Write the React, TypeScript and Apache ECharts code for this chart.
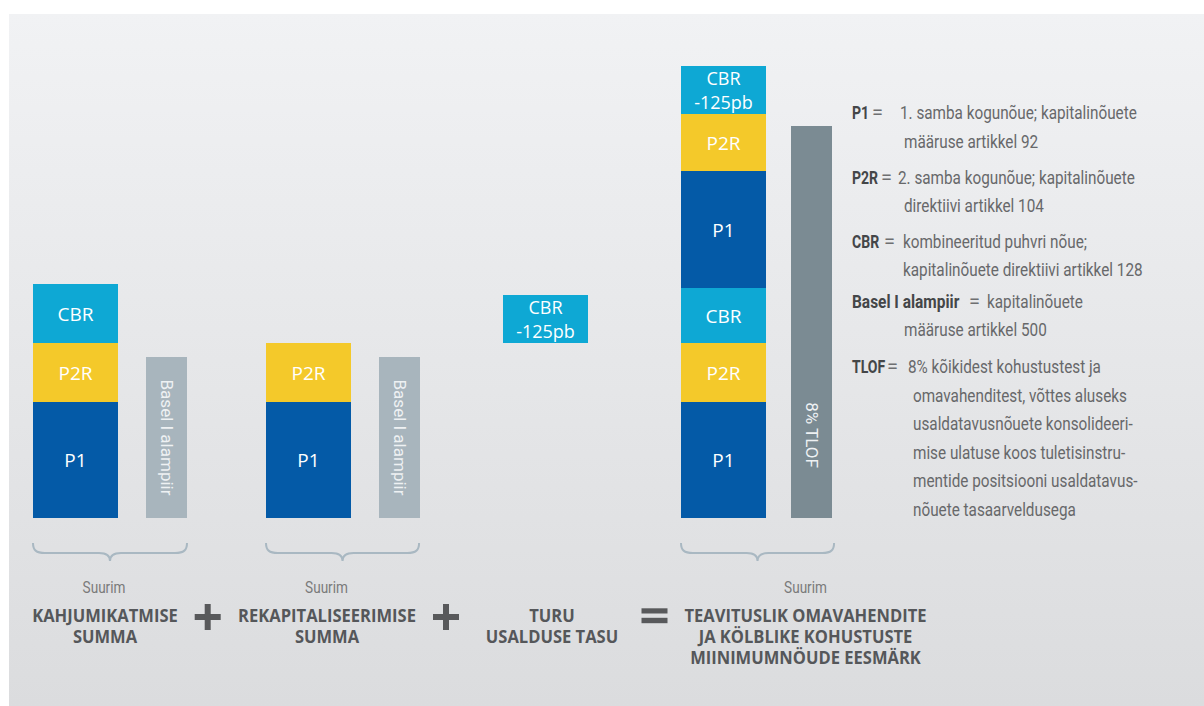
import React, { useEffect, useRef } from 'react';
import * as echarts from 'echarts';

// ---------- data ----------
const groupPrefixes = ['Suurim', 'Suurim', '', 'Suurim'];
const groupTitles = [
  'KAHJUMIKATMISE\nSUMMA',
  'REKAPITALISEERIMISE\nSUMMA',
  'TURU\nUSALDUSE TASU',
  'TEAVITUSLIK OMAVAHENDITE\nJA KÖLBLIKE KOHUSTUSTE\nMIINIMUMNÖUDE EESMÄRK',
];

const lossAbsorptionSegments = ['P1', 'P2R', 'CBR'];
const lossAbsorptionValues = [116, 59, 59];
const recapitalisationSegments = ['P1', 'P2R'];
const recapitalisationValues = [116, 59];
const marketConfidenceSegments = ['CBR\n-125pb'];
const marketConfidenceValues = [48];
const mrelSegments = ['P1', 'P2R', 'CBR', 'P1', 'P2R', 'CBR\n-125pb'];
const mrelValues = [116, 59, 55, 117, 57, 48];
const baselFloorLabel = 'Basel I alampiir';
const baselFloorValues = [161, 161];
const tlofLabel = '8% TLOF';
const tlofValues = [392];

const legendTerms = ['P1', 'P2R', 'CBR', 'Basel I alampiir', 'TLOF'];
const legendDefinitions = [
  ['1. samba kogunõue; kapitalinõuete', 'määruse artikkel 92'],
  ['2. samba kogunõue; kapitalinõuete', 'direktiivi artikkel 104'],
  ['kombineeritud puhvri nõue;', 'kapitalinõuete direktiivi artikkel 128'],
  ['kapitalinõuete', 'määruse artikkel 500'],
  [
    '8% kõikidest kohustustest ja',
    'omavahenditest, võttes aluseks',
    'usaldatavusnõuete konsolideeri-',
    'mise ulatuse koos tuletisinstru-',
    'mentide positsiooni usaldatavus-',
    'nõuete tasaarveldusega',
  ],
];

// ---------- styles / layout ----------
const COND = "Roboto, 'Open Sans', sans-serif";
const SANS = "'Open Sans', 'Noto Sans', sans-serif";
const SEG_COLORS: Record<string, string> = {
  P1: '#045aa7',
  P2R: '#f4c92a',
  CBR: '#0ea8d4',
  'CBR\n-125pb': '#0ea8d4',
};
const FLOOR_COLOR = '#a8b5bd';
const TLOF_COLOR = '#7b8b93';

const gridLefts = [30, 263, 500, 679.5];
const gridWidths = [182, 182, 91, 176];
const titleCenters = [105, 327, 552, 805.5];
const prefixCenters = [104, 326.5, 0, 805.5];
const braceLefts = [33, 266, 0, 681];

const legendRowY = [113, 177.7, 241.7, 301.7, 367];
const legendTermScale = [0.78, 0.78, 0.78, 0.86, 0.78];
const legendEqX = [872, 881, 884, 969, 887];
const legendFirstX = [900, 898, 903, 987, 908];
const legendContX = [904, 904, 903, 904, 913];
const legendStep = 28.6;

echarts.graphic.registerShape(
  'brace',
  echarts.graphic.extendPath(
    'M0 0 C0 7 3 10 12 10 L66 10 C73 10 77 12 77 18 C77 12 81 10 88 10 L142 10 C151 10 154 7 154 0',
    {}
  )
);

function segLabel(text: string) {
  const twoLines = text.indexOf('\n') >= 0;
  return {
    show: true,
    position: 'inside',
    formatter: () => text,
    color: '#ffffff',
    fontFamily: SANS,
    fontSize: twoLines ? 18 : 19,
    lineHeight: twoLines ? 24 : 21,
  };
}

function stackSeries(names: string[], values: number[], xi: number, yi: number, stackId: string, slots: number) {
  return names.map((n, i) => ({
    type: 'bar',
    name: n,
    stack: stackId,
    xAxisIndex: xi,
    yAxisIndex: yi,
    barWidth: 85,
    data: slots === 2 ? [values[i], '-'] : [values[i]],
    itemStyle: { color: SEG_COLORS[n] },
    label: segLabel(n),
    emphasis: { disabled: true },
  }));
}

function floorSeries(value: number, xi: number, yi: number, label: string, color: string, labelPos: any) {
  return {
    type: 'bar',
    name: label,
    xAxisIndex: xi,
    yAxisIndex: yi,
    barWidth: 41,
    data: ['-', value],
    itemStyle: { color },
    emphasis: { disabled: true },
    label: {
      show: true,
      position: labelPos,
      rotate: -90,
      align: 'center',
      verticalAlign: 'middle',
      formatter: () => label,
      color: '#eef1f3',
      fontFamily: COND,
      fontSize: 17,
    },
  };
}

function text(x: number, y: number, str: string, opts: any) {
  return {
    type: 'text',
    x,
    y,
    z: 10,
    scaleX: opts.scaleX || 1,
    style: {
      text: str,
      fill: opts.fill,
      fontSize: opts.fontSize,
      fontFamily: opts.fontFamily,
      fontWeight: opts.fontWeight || 'normal',
      textAlign: opts.align || 'left',
      align: opts.align || 'left',
      textVerticalAlign: opts.valign || 'middle',
      verticalAlign: opts.valign || 'middle',
      lineHeight: opts.lineHeight,
    },
  };
}

function buildOption() {
  const grids = gridLefts.map((l, i) => ({ left: l, width: gridWidths[i], top: 18, bottom: 188 }));
  const cat2 = ['stack', 'floor'];
  const xAxes = [
    { gridIndex: 0, type: 'category', data: cat2, show: false },
    { gridIndex: 0, type: 'category', data: cat2, show: false },
    { gridIndex: 1, type: 'category', data: cat2, show: false },
    { gridIndex: 1, type: 'category', data: cat2, show: false },
    { gridIndex: 2, type: 'category', data: ['stack'], show: false },
    { gridIndex: 3, type: 'category', data: cat2, show: false },
    { gridIndex: 3, type: 'category', data: cat2, show: false },
  ];
  const yAxes = [0, 1, 2, 3].map((g) => ({ gridIndex: g, type: 'value', min: 0, max: 500, show: false }));

  const recapTotal = recapitalisationValues.reduce((a, b) => a + b, 0);

  const series: any[] = [
    ...stackSeries(lossAbsorptionSegments, lossAbsorptionValues, 0, 0, 'g1', 2),
    floorSeries(baselFloorValues[0], 1, 0, baselFloorLabel, FLOOR_COLOR, 'inside'),
    ...stackSeries(recapitalisationSegments, recapitalisationValues, 2, 1, 'g2', 2),
    floorSeries(baselFloorValues[1], 3, 1, baselFloorLabel, FLOOR_COLOR, 'inside'),
    {
      type: 'bar',
      name: 'base',
      stack: 'g3',
      xAxisIndex: 4,
      yAxisIndex: 2,
      barWidth: 85,
      data: [recapTotal],
      itemStyle: { color: 'rgba(0,0,0,0)' },
      emphasis: { disabled: true },
      silent: true,
    },
    ...stackSeries(marketConfidenceSegments, marketConfidenceValues, 4, 2, 'g3', 1),
    ...stackSeries(mrelSegments, mrelValues, 5, 3, 'g4', 2),
    floorSeries(tlofValues[0], 6, 3, tlofLabel, TLOF_COLOR, [20.5, 309]),
  ];

  const graphics: any[] = [
    {
      type: 'rect',
      z: -10,
      shape: { x: 9, y: 14, width: 1195, height: 692 },
      style: {
        fill: new echarts.graphic.LinearGradient(0, 0, 0, 1, [
          { offset: 0, color: '#f1f2f4' },
          { offset: 1, color: '#dbdcde' },
        ]),
      },
    },
  ];

  // braces
  braceLefts.forEach((bx, i) => {
    if (!groupPrefixes[i]) return;
    graphics.push({
      type: 'brace',
      x: bx,
      y: 543,
      z: 10,
      scaleX: i === 0 ? 1 : 153 / 154,
      style: { fill: 'none', stroke: '#a9b8c2', lineWidth: 2 },
    });
  });

  // prefixes and titles
  groupTitles.forEach((t, i) => {
    if (groupPrefixes[i]) {
      graphics.push(
        text(prefixCenters[i], 588, groupPrefixes[i], {
          fill: '#7a7a7a',
          fontSize: 16,
          fontFamily: COND,
          align: 'center',
          scaleX: 0.85,
        })
      );
    }
    graphics.push(
      text(titleCenters[i], 604.5, t, {
        fill: '#55575a',
        fontSize: 18,
        fontFamily: SANS,
        fontWeight: 'bold',
        align: 'center',
        valign: 'top',
        lineHeight: 21,
        scaleX: 0.92,
      })
    );
  });

  // plus signs
  [207.7, 446].forEach((cx) => {
    graphics.push({ type: 'rect', z: 10, shape: { x: cx - 13, y: 614, width: 26, height: 6 }, style: { fill: '#58595b' } });
    graphics.push({ type: 'rect', z: 10, shape: { x: cx - 3, y: 604, width: 6, height: 26 }, style: { fill: '#58595b' } });
  });
  // equal sign
  graphics.push({ type: 'rect', z: 10, shape: { x: 641.5, y: 608.3, width: 26, height: 5.2 }, style: { fill: '#58595b' } });
  graphics.push({ type: 'rect', z: 10, shape: { x: 641.5, y: 617.8, width: 26, height: 5.4 }, style: { fill: '#58595b' } });

  // legend
  legendTerms.forEach((term, i) => {
    const y = legendRowY[i];
    graphics.push(
      text(852, y, term, {
        fill: '#444648',
        fontSize: 18,
        fontFamily: COND,
        fontWeight: 'bold',
        scaleX: legendTermScale[i],
      })
    );
    graphics.push(text(legendEqX[i], y - 1, '=', { fill: '#6e6f71', fontSize: 20, fontFamily: COND }));
    legendDefinitions[i].forEach((line, j) => {
      graphics.push(
        text(j === 0 ? legendFirstX[i] : legendContX[i], y + j * legendStep, line, {
          fill: '#67686a',
          fontSize: 18,
          fontFamily: COND,
          scaleX: 0.85,
        })
      );
    });
  });

  return {
    animation: false,
    backgroundColor: '#ffffff',
    grid: grids,
    xAxis: xAxes,
    yAxis: yAxes,
    tooltip: { show: false },
    series,
    graphic: { elements: graphics },
  };
}

export default function App() {
  const ref = useRef<HTMLDivElement>(null);
  useEffect(() => {
    document.body.style.margin = '0';
    if (!ref.current) return;
    const chart = echarts.init(ref.current, undefined, { renderer: 'svg' });
    chart.setOption(buildOption() as any);
    return () => chart.dispose();
  }, []);
  return <div ref={ref} style={{ width: 1204, height: 706 }} />;
}
